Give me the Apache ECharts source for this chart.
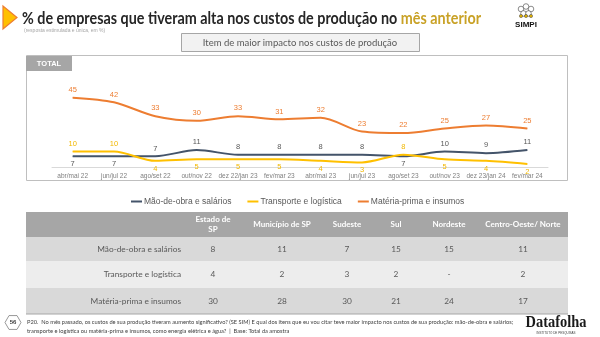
<!DOCTYPE html>
<html><head><meta charset="utf-8">
<script src="https://cdn.jsdelivr.net/npm/echarts@6/dist/echarts.min.js"></script>
<style>html,body{margin:0;padding:0;background:#fff}#c{width:600px;height:337px}</style>
</head><body><div id="c"></div>
<script>
// ---- data ----
const categories = ['abr/mai 22','jun/jul 22','ago/set 22','out/nov 22','dez 22/jan 23','fev/mar 23','abr/mai 23','jun/jul 23','ago/set 23','out/nov 23','dez 23/jan 24','fev/mar 24'];
const seriesNames = ['Mão-de-obra e salários','Transporte e logística','Matéria-prima e insumos'];
const maoDeObra = [7,7,7,11,8,8,8,8,7,10,9,11];
const transporte = [10,10,4,5,5,5,4,3,8,5,4,2];
const materiaPrima = [45,42,33,30,33,31,32,23,22,25,27,25];
// label placement (style)
const maoLabelPos = ['bottom','bottom','top','top','top','top','top','top','bottom','top','top','top'];
const transLabelPos = ['top','top','bottom','bottom','bottom','bottom','bottom','bottom','top','bottom','bottom','bottom'];

const tableColumns = ['Estado de\nSP','Município de SP','Sudeste','Sul','Nordeste','Centro-Oeste/ Norte'];
const tableRowNames = ['Mão-de-obra e salários','Transporte e logística','Matéria-prima e insumos'];
const tableMao = ['8','11','7','15','15','11'];
const tableTransporte = ['4','2','3','2','-','2'];
const tableMateria = ['30','28','30','21','24','17'];

const titleMain = '% de empresas que tiveram alta nos custos de produção no ';
const titleHighlight = 'mês anterior';
const subtitle = '(resposta estimulada e única, em %)';
const boxTitle = 'Item de maior impacto nos custos de produção';
const tabLabel = 'TOTAL';
const footer1 = 'P20.  No mês passado, os custos de sua produção tiveram aumento significativo? (SE SIM) E qual dos itens que eu vou citar teve maior impacto nos custos de sua produção: mão-de-obra e salários;';
const footer2 = 'transporte e logística ou matéria-prima e insumos, como energia elétrica e água?  |  Base: Total da amostra';
const pageNumber = '56';

// ---- style ----
const C_GRAY = '#44546A', C_YEL = '#FFC000', C_ORG = '#ED7D31';
const FONT = '"Liberation Sans", Arial, sans-serif';
const FONT2 = 'Lato, "Open Sans", sans-serif';

function lineSeries(name, vals, pos, lineColor, labelColor) {
  return {
    name, type: 'line',
    data: vals.map((v, i) => ({ value: v, label: { show: true, position: pos ? pos[i] : 'top' } })),
    smooth: 0.3, showSymbol: true, symbol: 'circle', symbolSize: 0.5,
    lineStyle: { color: lineColor, width: 2 }, itemStyle: { color: lineColor },
    label: { show: true, fontSize: 7.5, fontFamily: FONT, distance: 3.5, color: labelColor },
    labelLayout: { hideOverlap: false },
    z: 3
  };
}

// table graphics
const tLeft = 26, tRight = 568;
const headerTop = 212, headerBot = 237;
const rowBounds = [[237,261],[261,288],[288,314]];
const rowFills = ['#d9d9d9','#ededed','#d9d9d9'];
const colX = [213,282,347,396,449,523];
const labelRight = 181;
const g = [];
g.push({ type:'rect', shape:{x:tLeft,y:headerTop,width:tRight-tLeft,height:headerBot-headerTop}, style:{fill:'#a6a6a6'} });
rowBounds.forEach((b,i)=>g.push({ type:'rect', shape:{x:tLeft,y:b[0],width:tRight-tLeft,height:b[1]-b[0]}, style:{fill:rowFills[i]} }));
g.push({ type:'line', shape:{x1:tLeft,y1:314,x2:tRight,y2:314}, style:{stroke:'#a6a6a6',lineWidth:1} });
tableColumns.forEach((t,i)=>g.push({ type:'text', x:colX[i], y:(headerTop+headerBot)/2,
  style:{ text:t, fill:'#ffffff', font:'bold 8px '+FONT2, align:'center', verticalAlign:'middle', lineHeight:10 } }));
const tableVals = [tableMao, tableTransporte, tableMateria];
tableRowNames.forEach((r,i)=>{
  const cy = (rowBounds[i][0]+rowBounds[i][1])/2;
  g.push({ type:'text', x:labelRight, y:cy, style:{ text:r, fill:'#595959', font:'8.3px '+FONT2, align:'right', verticalAlign:'middle' } });
  tableVals[i].forEach((v,j)=>g.push({ type:'text', x:colX[j], y:cy, style:{ text:v, fill:'#595959', font:'8.3px '+FONT2, align:'center', verticalAlign:'middle' } }));
});

// panel and header stuff
g.push({ type:'rect', shape:{x:26.5,y:55.5,width:541,height:125}, style:{fill:'none',stroke:'#bfbfbf',lineWidth:1}, z:-1 });
g.push({ type:'rect', shape:{x:26,y:56,width:46,height:15}, style:{fill:'#a6a6a6'} });
g.push({ type:'text', x:49, y:63.5, style:{ text:tabLabel, fill:'#fff', font:'bold 7.5px '+FONT, align:'center', verticalAlign:'middle' } });
g.push({ type:'rect', shape:{x:181.5,y:33.5,width:238,height:18}, style:{fill:'#f2f2f2',stroke:'#a6a6a6',lineWidth:1} });
g.push({ type:'text', x:300, y:42.5, style:{ text:boxTitle, fill:'#595959', font:'9.5px '+FONT2, align:'center', verticalAlign:'middle' } });
// title
g.push({ type:'polygon', shape:{points:[[3,6],[3,29],[17,17.5]]}, style:{fill:'#FFC000',stroke:'#ED7D31',lineWidth:1.2} });
g.push({ type:'text', x:22, y:18, scaleX:0.82, style:{ text:'{a|'+titleMain+'}{b|'+titleHighlight+'}', verticalAlign:'middle',
  rich:{ a:{ font:'bold 17.5px '+FONT2, fill:'#262626' }, b:{ font:'bold 17.5px '+FONT2, fill:'#C9A227' } } } });
g.push({ type:'text', x:24, y:30.5, style:{ text:subtitle, fill:'#a6a6a6', font:'5px '+FONT, verticalAlign:'middle' } });
// SIMPI logo
[[521,9],[526,6.5],[531,9],[523.5,13.5],[528.5,13.5]].forEach(p=>g.push({ type:'circle', shape:{cx:p[0],cy:p[1],r:2.8}, style:{fill:'#fff',stroke:'#404040',lineWidth:0.6} }));
[[521,16],[526,16],[531,16]].forEach(p=>g.push({ type:'circle', shape:{cx:p[0],cy:p[1],r:1.6}, style:{fill:'#E0B000',stroke:'#404040',lineWidth:0.5} }));
g.push({ type:'text', x:526, y:25, style:{ text:'SIMPI', fill:'#111', font:'bold 8px '+FONT, align:'center', verticalAlign:'middle' } });
// footer
const hx = 13, hy = 322.5, hr = 8;
g.push({ type:'polygon', shape:{points:[0,1,2,3,4,5].map(k=>[hx+hr*Math.cos(Math.PI/3*k), hy+hr*Math.sin(Math.PI/3*k)])}, style:{fill:'#fff',stroke:'#7f7f7f',lineWidth:0.8} });
g.push({ type:'text', x:hx, y:hy, style:{ text:pageNumber, fill:'#404040', font:'bold 6px '+FONT, align:'center', verticalAlign:'middle' } });
g.push({ type:'text', x:27, y:322, style:{ text:footer1, fill:'#404040', font:'5.7px '+FONT2, verticalAlign:'middle' } });
g.push({ type:'text', x:27, y:331, style:{ text:footer2, fill:'#404040', font:'5.7px '+FONT2, verticalAlign:'middle' } });
g.push({ type:'text', x:556, y:323, scaleX:0.9, style:{ text:'Datafolha', fill:'#1a1a1a', font:'bold 16px "Liberation Serif", serif', align:'center', verticalAlign:'middle' } });
g.push({ type:'text', x:556, y:333, style:{ text:'INSTITUTO DE PESQUISAS', fill:'#404040', font:'3px '+FONT, align:'center', verticalAlign:'middle' } });

const chart = echarts.init(document.getElementById('c'), null, { renderer:'canvas' });
chart.setOption({
  animation: false,
  grid: { left: 52, right: 52, top: 90, bottom: 170 },
  xAxis: {
    type: 'category', data: categories, boundaryGap: true,
    axisLine: { lineStyle: { color: '#d9d9d9' } }, axisTick: { show: false },
    axisLabel: { color: '#7f7f7f', fontSize: 6.5, fontFamily: FONT, margin: 6, interval: 0 }
  },
  yAxis: { type: 'value', min: 0, max: 50, show: false, splitLine: { show: false } },
  legend: {
    data: seriesNames, left: 126, top: 192, itemWidth: 11, itemHeight: 2, itemGap: 16, icon: 'rect',
    textStyle: { color: '#595959', fontSize: 8.5, fontFamily: FONT, padding: [0,0,0,-3] }
  },
  series: [
    lineSeries(seriesNames[0], maoDeObra, maoLabelPos, C_GRAY, '#595959'),
    lineSeries(seriesNames[1], transporte, transLabelPos, C_YEL, '#F2B800'),
    lineSeries(seriesNames[2], materiaPrima, null, C_ORG, C_ORG)
  ],
  graphic: g
});
</script>
</body></html>
